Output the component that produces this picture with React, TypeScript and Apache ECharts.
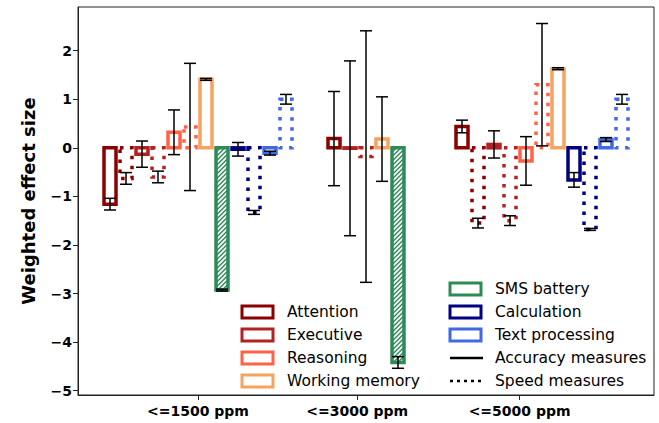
import React, { useEffect, useRef } from 'react';
import * as echarts from 'echarts';

// ---------- data ----------
const groupLabels = ['<=1500 ppm', '<=3000 ppm', '<=5000 ppm'];
const domains = ['Attention', 'Executive', 'Reasoning', 'Working memory', 'SMS battery', 'Calculation', 'Text processing'];
const measureLabels = ['Accuracy measures', 'Speed measures'];

const bars1500Domain = [0, 0, 1, 1, 2, 2, 3, 4, 5, 5, 6, 6];
const bars1500Measure = ['acc', 'speed', 'acc', 'speed', 'acc', 'speed', 'acc', 'acc', 'acc', 'speed', 'acc', 'speed'];
const bars1500Value = [-1.16, -0.63, -0.13, -0.6, 0.32, 0.43, 1.41, -2.93, -0.03, -1.33, -0.11, 1.0];
const bars1500Error = [0.12, 0.12, 0.27, 0.12, 0.46, 1.31, 0.02, 0.02, 0.14, 0.04, 0.04, 0.1];

const bars3000Domain = [0, 1, 1, 3, 4];
const bars3000Measure = ['acc', 'acc', 'speed', 'acc', 'acc'];
const bars3000Value = [0.19, -0.01, -0.18, 0.18, -4.42];
const bars3000Error = [0.97, 1.8, 2.59, 0.87, 0.12];

const bars5000Domain = [0, 0, 1, 1, 2, 2, 3, 5, 5, 6, 6];
const bars5000Measure = ['acc', 'speed', 'acc', 'speed', 'acc', 'speed', 'acc', 'acc', 'speed', 'acc', 'speed'];
const bars5000Value = [0.44, -1.55, 0.07, -1.5, -0.27, 1.3, 1.63, -0.66, -1.68, 0.17, 1.0];
const bars5000Error = [0.13, 0.1, 0.28, 0.1, 0.5, 1.26, 0.02, 0.15, 0.02, 0.04, 0.1];

const yTicks = [-5, -4, -3, -2, -1, 0, 1, 2];

// ---------- layout / style ----------
const domainColors = ['#8b0000', '#b22222', '#ff6347', '#f4a460', '#2e8b57', '#000080', '#4169e1'];
const HATCHED_DOMAIN = 4;
const groupStartSlot = [2, 16, 24];
const groupTickSlot = [7.5, 17.45, 27.6];
const X_MAX = 36;
const Y_MIN = -5.09;
const Y_MAX = 2.9;
const BAR_W = 0.75;
const FONT = 'DejaVu Sans';

const groupsData = [
  { d: bars1500Domain, m: bars1500Measure, v: bars1500Value, e: bars1500Error },
  { d: bars3000Domain, m: bars3000Measure, v: bars3000Value, e: bars3000Error },
  { d: bars5000Domain, m: bars5000Measure, v: bars5000Value, e: bars5000Error },
];

function buildItems() {
  const items: number[][] = [];
  groupsData.forEach((g, gi) => {
    g.d.forEach((dom, i) => {
      items.push([groupStartSlot[gi] + i, g.v[i], g.e[i], dom, g.m[i] === 'speed' ? 1 : 0]);
    });
  });
  return items;
}

function minusFmt(v: number) {
  return v < 0 ? '\u2212' + Math.abs(v) : String(v);
}

export default function App() {
  const ref = useRef<HTMLDivElement>(null);
  useEffect(() => {
    if (!ref.current) return;
    const chart = echarts.init(ref.current, null, { renderer: 'svg' });
    const items = buildItems();

    const legendRows = [289, 312, 335, 358, 381];
    const leftX = 242, rightX = 450, patchW = 31, patchH = 12;
    const legendFont = `15.5px "${FONT}"`;
    const graphics: any[] = [];
    for (let i = 0; i < 4; i++) {
      const y = legendRows[i + 1];
      graphics.push({
        type: 'rect',
        shape: { x: leftX, y: y - patchH / 2, width: patchW, height: patchH },
        style: { fill: '#fff', stroke: domainColors[i], lineWidth: 3 },
      });
      graphics.push({
        type: 'text', x: leftX + patchW + 14, y,
        style: { text: domains[i], fill: '#000', font: legendFont, verticalAlign: 'middle', align: 'left' },
      });
    }
    for (let j = 0; j < 3; j++) {
      const y = legendRows[j];
      const di = 4 + j;
      graphics.push({
        type: 'rect',
        shape: { x: rightX, y: y - patchH / 2, width: patchW, height: patchH },
        style: { fill: '#fff', stroke: domainColors[di], lineWidth: 3 },
      });
      graphics.push({
        type: 'text', x: rightX + patchW + 14, y,
        style: { text: domains[di], fill: '#000', font: legendFont, verticalAlign: 'middle', align: 'left' },
      });
    }
    for (let k = 0; k < 2; k++) {
      const y = legendRows[3 + k];
      graphics.push({
        type: 'line',
        shape: { x1: rightX, y1: y, x2: rightX + patchW + 2, y2: y },
        style: { stroke: '#000', lineWidth: 2.5, lineDash: k === 1 ? [3, 4] : null },
      });
      graphics.push({
        type: 'text', x: rightX + patchW + 14, y,
        style: { text: measureLabels[k], fill: '#000', font: legendFont, verticalAlign: 'middle', align: 'left' },
      });
    }

    const option: any = {
      animation: false,
      backgroundColor: '#fff',
      grid: { left: 78, right: 5, top: 7, bottom: 28, show: true, borderColor: '#222', borderWidth: 1, backgroundColor: 'transparent' },
      xAxis: {
        type: 'value', min: 0, max: X_MAX,
        splitLine: { show: false },
        axisLine: { show: true, onZero: false, lineStyle: { color: '#222', width: 1 } },
        axisTick: { show: true, customValues: groupTickSlot, length: 5, inside: false, lineStyle: { color: '#222', width: 1 } },
        axisLabel: {
          customValues: groupTickSlot, margin: 9, color: '#000', fontWeight: 'bold', fontSize: 14, fontFamily: FONT,
          formatter: (v: number) => {
            const i = groupTickSlot.findIndex((t) => Math.abs(t - v) < 1e-6);
            return i >= 0 ? groupLabels[i] : '';
          },
        },
      },
      yAxis: {
        type: 'value', min: Y_MIN, max: Y_MAX,
        name: 'Weighted effect size', nameLocation: 'middle', nameRotate: 90, nameGap: 41,
        nameTextStyle: { fontWeight: 'bold', fontSize: 18, fontFamily: FONT, color: '#000' },
        splitLine: { show: false },
        axisLine: { show: true, onZero: false, lineStyle: { color: '#222', width: 1 } },
        axisTick: { show: true, customValues: yTicks, length: 5, inside: false, lineStyle: { color: '#222', width: 1 } },
        axisLabel: { customValues: yTicks, margin: 6, color: '#000', fontWeight: 'bold', fontSize: 14, fontFamily: FONT, formatter: minusFmt },
      },
      series: [
        {
          type: 'custom', name: 'bars', data: items, z: 2,
          renderItem: (params: any, api: any) => {
            const slot = api.value(0), v = api.value(1), d = api.value(3), speed = api.value(4);
            const p0 = api.coord([slot, 0]);
            const p1 = api.coord([slot, v]);
            const w = api.size([BAR_W, 0])[0];
            const x = p0[0] - w / 2;
            const y = Math.min(p0[1], p1[1]);
            const h = Math.abs(p1[1] - p0[1]);
            const color = domainColors[d];
            const children: any[] = [];
            if (d === HATCHED_DOMAIN) {
              const x0 = x, x1 = x + w, y0 = y, y1 = y + h;
              const step = 4.5;
              for (let c = x0 + y0 + step; c < x1 + y1; c += step) {
                const xa = Math.max(x0, c - y1);
                const xb = Math.min(x1, c - y0);
                if (xb <= xa) continue;
                children.push({
                  type: 'line',
                  shape: { x1: xa, y1: c - xa, x2: xb, y2: c - xb },
                  style: { stroke: color, lineWidth: 1.4 },
                });
              }
            }
            children.push({
              type: 'rect',
              shape: { x, y, width: w, height: h },
              style: {
                fill: 'none', stroke: color, lineWidth: 3.5,
                lineDash: speed ? [3.5, 6.5] : null,
              },
            });
            return { type: 'group', children };
          },
        },
        {
          type: 'custom', name: 'errors', data: items, z: 3,
          renderItem: (params: any, api: any) => {
            const slot = api.value(0), v = api.value(1), e = api.value(2);
            const top = api.coord([slot, v + e]);
            const bot = api.coord([slot, v - e]);
            const cap = 6;
            const st = { stroke: '#000', lineWidth: 1.5 };
            return {
              type: 'group',
              children: [
                { type: 'line', shape: { x1: top[0], y1: top[1], x2: bot[0], y2: bot[1] }, style: st },
                { type: 'line', shape: { x1: top[0] - cap, y1: top[1], x2: top[0] + cap, y2: top[1] }, style: st },
                { type: 'line', shape: { x1: bot[0] - cap, y1: bot[1], x2: bot[0] + cap, y2: bot[1] }, style: st },
              ],
            };
          },
        },
      ],
      graphic: graphics,
    };
    chart.setOption(option);
    return () => chart.dispose();
  }, []);
  return <div ref={ref} style={{ position: 'fixed', left: 0, top: 0, width: 659, height: 423 }} />;
}
